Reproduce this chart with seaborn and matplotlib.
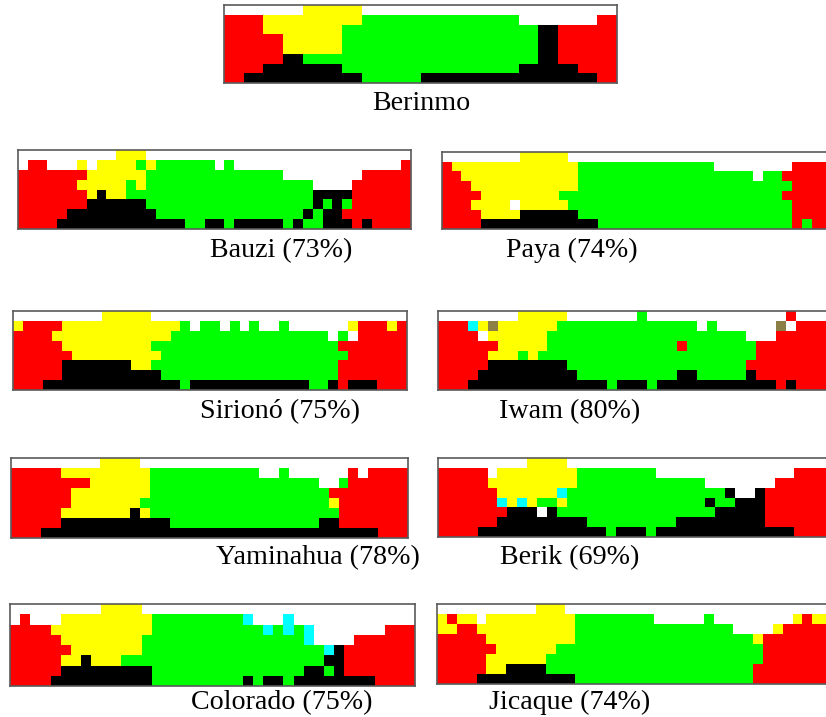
import numpy as np
import matplotlib
matplotlib.use("Agg")
import matplotlib.pyplot as plt
from matplotlib.colors import ListedColormap
import seaborn as sns

# Colour-term maps on the 8 x 40 Munsell grid (rows B..I, hue columns 1..40).
# W white/unnamed, R red, Y yellow, G green, K black, C cyan, O olive
berinmo = [
    "WWWWWWWWYYYYYYWWWWWWWWWWWWWWWWWWWWWWWWWW",
    "RRRRYYYYYYYYYYGGGGGGGGGGGGGGGGWWWWWWWWRR",
    "RRRRYYYYYYYYGGGGGGGGGGGGGGGGGGGGKKRRRRRR",
    "RRRRRRYYYYYYGGGGGGGGGGGGGGGGGGGGKKRRRRRR",
    "RRRRRRYYYYYYGGGGGGGGGGGGGGGGGGGGKKRRRRRR",
    "RRRRRRKKGGGGGGGGGGGGGGGGGGGGGGGGKKRRRRRR",
    "RRRRKKKKKKKKGGGGGGGGGGGGGGGGGGKKKKKKRRRR",
    "RRKKKKKKKKKKKKGGGGGGKKKKKKKKKKKKKKKKKKRR",
]
bauzi = [
    "WWWWWWWWWWYYYWWWWWWWWWWWWWWWWWWWWWWWWWWW",
    "WRRWWWYWYYYYGYGGGGGGWGWWWWWWWWWWWWWWWWWR",
    "RRRRRRRYYYYYYGGGGGGGGGGGGGGWWWWWWWWRRRRR",
    "RRRRRRYYYYYGYGGGGGGGGGGGGGGGGGWWWWRRRRRR",
    "RRRRRRRYKYYGGGGGGGGGGGGGGGGGGGKKKKRRRRRR",
    "RRRRRRRKKKKKKGGGGGGGGGGGGGGGGGKGKGRRRRRR",
    "RRRRRKKKKKKKKKGGGGGGGGGGGGGGGKGKKRRRRRRR",
    "RRRRKKKKKKKKKKKKKGGKKGKKKKKGKGGKKKRKRRRR",
]
paya = [
    "WWWWWWWWYYYYYWWWWWWWWWWWWWWWWWWWWWWWWWWW",
    "RYYYYYYYYYYYYYGGGGGGGGGGGGGGWWWWWWWWRRRR",
    "RRYYYYYYYYYYYYGGGGGGGGGGGGGGGGGGWGGRRRRR",
    "RRRYYYYYYYYYYYGGGGGGGGGGGGGGGGGGGGGGRRRR",
    "RRRRYYYYYYYYGGGGGGGGGGGGGGGGGGGGGGGRRRRR",
    "RRRYYYYWYYYYYGGGGGGGGGGGGGGGGGGGGGGGRRRR",
    "RRRRYYYYKKKKKKGGGGGGGGGGGGGGGGGGGGGGRRRR",
    "RRRRKKKKKKKKKKKKGGGGGGGGGGGGGGGGGGGGRGRR",
]
siriono = [
    "WWWWWWWWWYYYYYWWWWWWWWWWWWWWWWWWWWWWWWWW",
    "YRRRRYYYYYYYYYYYYGWGGWGWGWWGWWWWWWYRRRYR",
    "RRRRYYYYYYYYYYYYGGGGGGGGGGGGGGGGWGWRRRRR",
    "RRRRRYYYYYYYYYGGGGGGGGGGGGGGGGGGGRRRRRRR",
    "RRRRRRYYYYYYYYYGGGGGGGGGGGGGGGGGGGRRRRRR",
    "RRRRRKKKKKKKYYGGGGGGGGGGGGGGGGGGGRRRRRRR",
    "RRRRRKKKKKKKKKKGGGGGGGGGGGGGGGGGGRRRRRRR",
    "RRRKKKKKKKKKKKKKKGKKKKKKKKKKKKGGKRKKKRRR",
]
iwam = [
    "WWWWWWWWYYYYYWWWWWWWGWWWWWWWWWWWWWWRWWWW",
    "RRRCYOYYYYYYGGGGGGGGGGGGGGWGWWWWWWOWRRRR",
    "RRRRWYYYYYYGGGGGGGGGGGGGGGGGGGGWWWRRRRRR",
    "RRRRRRYYYYYGGGGGGGGGGGGGRGGGGGGGRRRRRRRR",
    "RRRRRYYYGYGGGGGGGGGGGGGGGGGGGGGGRRRRRRRR",
    "RRRRRKKKKKKKKGGGGGGGGGGGGGGGGGGRRRRRRRRR",
    "RRRRKKKKKKKKKKGGGGGGGGGGKKGGGGGKRRRRRRRR",
    "RRRKKKKKKKKKKKKKKGKKKGKKKKKKKKKKKKRKRRRR",
]
yaminahua = [
    "WWWWWWWWWYYYYWWWWWWWWWWWWWWWWWWWWWWWWWWW",
    "RRRRRYYYYYYYYYGGGGGGGGGGGWWGWWWWWWRWRRRR",
    "RRRRRRRRYYYYYYGGGGGGGGGGGGGGGGGWWGRRRRRR",
    "RRRRRRYYYYYYYYGGGGGGGGGGGGGGGGGGRRRRRRRR",
    "RRRRRRYYYYYYYGGGGGGGGGGGGGGGGGGGYRRRRRRR",
    "RRRRRYYYYYYYKYGGGGGGGGGGGGGGGGGGGRRRRRRR",
    "RRRRRKKKKKKKKKKKGGGGGGGGGGGGGGGKKRRRRRRR",
    "RRRKKKKKKKKKKKKKKKKKKKKKKKKKKKKKKKKKKRRR",
]
berik = [
    "WWWWWWWWWYYYYWWWWWWWWWWWWWWWWWWWWWWWWWWW",
    "RRRRRWYYYYYYYYGGGGGGGGWWWWWWWWWWWWWWRRRR",
    "RRRRRYYYYYYYYYGGGGGGGGGGGGGWWWWWWWRRRRRR",
    "RRRRRRYYYYYYCGGGGGGGGGGGGGGGGKWWKRRRRRRR",
    "RRRRRRCYCYGGYGGGGGGGGGGGGGGKGGKKKRRRRRRR",
    "RRRRRRRKKKWKGGGGGGGGGGGGGGGGKKKKKRRRRRRR",
    "RRRRRRKKKKKKKKKGGGGGGGGGKKKKKKKKKRRRRRRR",
    "RRRRKKKKKKKKKKKKKGKKKGKKKKKKKKKKKKKKRRRR",
]
colorado = [
    "WWWWWWWWWYYYYWWWWWWWWWWWWWWWWWWWWWWWWWWW",
    "WRWWWYYYYYYYYYGGGGGGGGGCWWWCWWWWWWWWWWWW",
    "RRRRYYYYYYYYYYGGGGGGGGGGGCGCGCWWWWWWWRRR",
    "RRRRRYYYYYYYYGGGGGGGGGGGGGGGGCWWWWRRRRRR",
    "RRRRRRYYYYYYYGGGGGGGGGGGGGGGGGGCKRRRRRRR",
    "RRRRRYYKYYYGGGGGGGGGGGGGGGGGGGGKKRRRRRRR",
    "RRRRRKKKKKKKKKGGGGGGGGGGGGGGGKKGKRRRRRRR",
    "RRRRKKKKKKKKKKGGGGGGGGGKGKKGKKKKKKKKRRRR",
]
jicaque = [
    "WWWWWWWWWWYYYWWWWWWWWWWWWWWWWWWWWWWWWWWW",
    "YRYYWYYYYYYYYYGGGGGGGGWWWWWGWWWWWWWWYRYY",
    "YYRRYYYYYYYYYYGGGGGGGGGGGGGGGGWWWWYRRRRR",
    "RRRRRYYYYYYYYYGGGGGGGGGGGGGGGGGGYRRRRRRR",
    "RRRRRRYYYYYYGGGGGGGGGGGGGGGGGGGGGRRRRRRR",
    "RRRRRYYYYYYGGGGGGGGGGGGGGGGGGGGGGRRRRRRR",
    "RRRRRYYKKKKGGGGGGGGGGGGGGGGGGGGGRRRRRRRR",
    "RRRRKKKKKKKKKKGGGGGGGGGGGGGGGGGGRRRRRRRR",
]

languages = ["Berinmo", "Bauzi", "Paya", "Sirionó", "Iwam",
             "Yaminahua", "Berik", "Colorado", "Jicaque"]
agreement = [None, 73, 74, 75, 80, 78, 69, 75, 74]
grids = [berinmo, bauzi, paya, siriono, iwam,
         yaminahua, berik, colorado, jicaque]

codes = "WRYGKCO"
palette = ["#ffffff", "#ff0000", "#ffff00", "#00ff00",
           "#000000", "#00ffff", "#8c7f46"]
cmap = ListedColormap(palette)

W, H = 826, 717
DPI = 100

# panel boxes in pixels: left, top, right, bottom
boxes = [
    (224, 5, 617, 83),
    (18, 150, 411, 229),
    (442, 152, 831, 229),
    (13, 311, 407, 390),
    (438, 311, 836, 390),
    (11, 458, 408, 538),
    (438, 458, 834, 537),
    (10, 604, 415, 686),
    (437, 604, 832, 684),
]
# caption anchor (centre x, baseline y) in pixels
captions = [
    (421, 110), (281, 257), (572, 257),
    (280, 418), (570, 418), (318, 564),
    (570, 564), (282, 709), (570, 709),
]

plt.rcParams["font.family"] = ["Liberation Serif", "DejaVu Serif"]
fig = plt.figure(figsize=(W / DPI, H / DPI), dpi=DPI)
fig.patch.set_facecolor("white")

for name, pct, grid, (l, t, r, b), (cx, cy) in zip(
        languages, agreement, grids, boxes, captions):
    arr = np.array([[codes.index(ch) for ch in row] for row in grid])
    ax = fig.add_axes([l / W, 1 - b / H, (r - l) / W, (b - t) / H])
    sns.heatmap(arr, cmap=cmap, vmin=-0.5, vmax=len(palette) - 0.5,
                cbar=False, xticklabels=False, yticklabels=False,
                linewidths=0, ax=ax)
    for s in ax.spines.values():
        s.set_visible(True)
        s.set_color("#5a5a5a")
        s.set_linewidth(1.2)
    label = name if pct is None else f"{name} ({pct}%)"
    fig.text(cx / W, 1 - cy / H, label, ha="center", va="baseline",
             fontsize=20.2, color="black")

fig.savefig("out.png", dpi=DPI)
